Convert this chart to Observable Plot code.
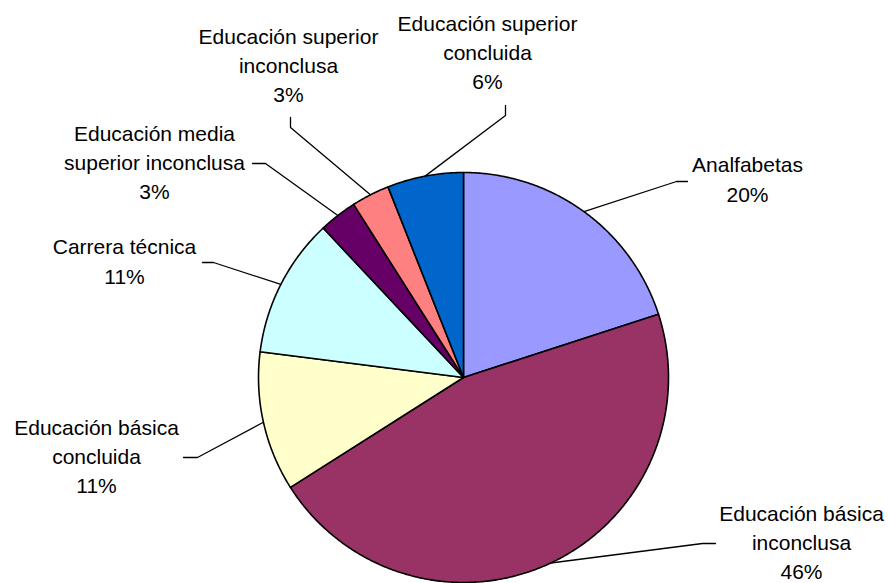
<!DOCTYPE html>
<html>
<head>
<meta charset="utf-8">
<script src="https://cdn.jsdelivr.net/npm/d3@7"></script>
<script src="https://cdn.jsdelivr.net/npm/@observablehq/plot@0.6"></script>
<style>
  html, body { margin: 0; padding: 0; background: #fff; }
  #chart { width: 889px; height: 583px; }
</style>
</head>
<body>
<div id="chart"></div>
<script>
// ---- data (clockwise from 12 o'clock) ----
const categories = [
  "Analfabetas",
  "Educación básica\ninconclusa",
  "Educación básica\nconcluida",
  "Carrera técnica",
  "Educación media\nsuperior inconclusa",
  "Educación superior\ninconclusa",
  "Educación superior\nconcluida"
];
const values = [20, 46, 11, 11, 3, 3, 6];
const colors = ["#9999FF", "#993366", "#FFFFCC", "#CCFFFF", "#660066", "#FF8080", "#0066CC"];

// ---- layout (pixels) ----
const W = 889, H = 583;
const cx = 463, cy = 377, R = 205;
// label block centres and leader elbows / dash ends
const labelPos = [[747, 177], [801, 540], [96, 454], [124, 259], [154, 160], [288, 63], [487, 50]];
const elbows   = [[676, 181], [702, 543], [197, 457], [213, 262], [265, 163], [290, 127], [505, 115]];
const dashEnds = [[687, 181], [715, 543], [183, 457], [202, 262], [252, 163], [290, 117], [505, 105]];

const total = d3.sum(values);
const pt = (a, r) => [cx + r * Math.sin(a), cy - r * Math.cos(a)];

// slice polygons
const slicePts = [];
const mids = [];
let acc = 0;
values.forEach((v, i) => {
  const a0 = acc / total * 2 * Math.PI;
  acc += v;
  const a1 = acc / total * 2 * Math.PI;
  const c = categories[i];
  slicePts.push({cat: c, x: cx, y: cy});
  const n = Math.max(2, Math.ceil((a1 - a0) / (Math.PI / 360)));
  for (let k = 0; k <= n; k++) {
    const [x, y] = pt(a0 + (a1 - a0) * k / n, R);
    slicePts.push({cat: c, x, y});
  }
  slicePts.push({cat: c, x: cx, y: cy});
  mids.push((a0 + a1) / 2);
});

// leader lines
const leaders = [];
categories.forEach((c, i) => {
  const [mx, my] = pt(mids[i], R);
  leaders.push({cat: c, x: mx, y: my});
  leaders.push({cat: c, x: elbows[i][0], y: elbows[i][1]});
  leaders.push({cat: c, x: dashEnds[i][0], y: dashEnds[i][1]});
});

const labels = categories.map((c, i) => ({
  text: c + "\n" + Math.round(values[i] / total * 100) + "%",
  x: labelPos[i][0], y: labelPos[i][1]
}));

const chart = Plot.plot({
  width: W, height: H,
  margin: 0,
  style: {background: "#fff", fontFamily: "'Liberation Sans', Arial, sans-serif"},
  x: {domain: [0, W], range: [0, W], axis: null},
  y: {domain: [0, H], range: [0, H], axis: null},
  color: {domain: categories, range: colors},
  marks: [
    Plot.line(slicePts, {x: "x", y: "y", z: "cat", fill: "cat", stroke: "#000", strokeWidth: 1.6, strokeLinejoin: "round", curve: "linear"}),
    Plot.line(leaders, {x: "x", y: "y", z: "cat", stroke: "#000", strokeWidth: 1.3}),
    Plot.text(labels, {x: "x", y: "y", text: "text", fontSize: 21, lineHeight: 1.4, lineAnchor: "middle", textAnchor: "middle", fill: "#000"})
  ]
});
document.getElementById("chart").appendChild(chart);
</script>
</body>
</html>
